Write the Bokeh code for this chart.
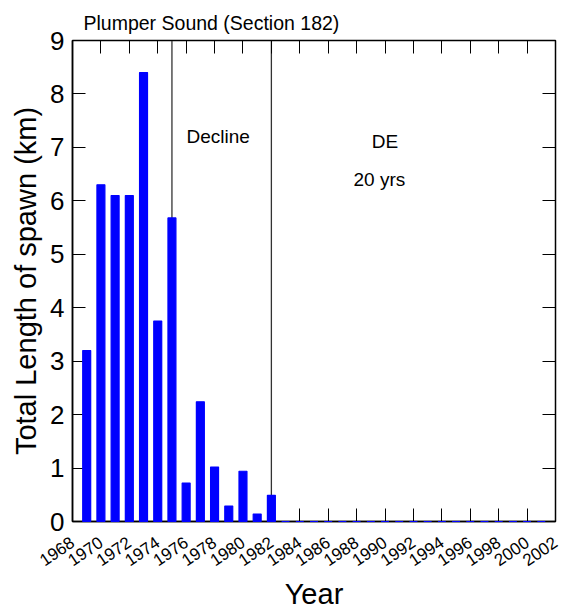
from bokeh.plotting import figure
from bokeh.models import (ColumnDataSource, FixedTicker, LinearAxis, Label,
                          Range1d, Segment)
from bokeh.embed import file_html
from bokeh.resources import INLINE

# Spawn length by year, Plumper Sound (Section 182)
years = [1969, 1970, 1971, 1972, 1973, 1974, 1975, 1976, 1977, 1978, 1979,
         1980, 1981, 1982, 1983, 1984, 1985, 1986, 1987, 1988, 1989, 1990,
         1991, 1992, 1993, 1994, 1995, 1996, 1997, 1998, 1999, 2000, 2001]
lengths_km = [3.2, 6.3, 6.1, 6.1, 8.4, 3.75, 5.68, 0.72, 2.24, 1.02, 0.29,
              0.94, 0.14, 0.49, 0, 0, 0, 0, 0, 0, 0, 0,
              0, 0, 0, 0, 0, 0, 0, 0, 0, 0, 0]
x_ticks = [1968, 1970, 1972, 1974, 1976, 1978, 1980, 1982, 1984, 1986, 1988,
           1990, 1992, 1994, 1996, 1998, 2000, 2002]
y_ticks = [0, 1, 2, 3, 4, 5, 6, 7, 8, 9]
period_breaks = [1975, 1982]

FONT = "Liberation Sans"

p = figure(width=563, height=612, output_backend="svg", toolbar_location=None,
           x_range=Range1d(1968, 2002), y_range=Range1d(0, 9),
           min_border_left=72, min_border_right=8,
           min_border_top=40, min_border_bottom=91)
p.background_fill_color = "white"
p.border_fill_color = "white"
p.outline_line_color = "black"
p.outline_line_width = 1.5
p.xgrid.visible = False
p.ygrid.visible = False

p.title.text = "Plumper Sound (Section 182)"
p.title.text_font = FONT
p.title.text_font_size = "19.5px"
p.title.text_font_style = "normal"
p.title.text_color = "black"
p.title.align = "left"
p.title.offset = 11
p.title.standoff = 14

# period divider lines (drawn behind the bars)
src_lines = ColumnDataSource(dict(x0=period_breaks, y0=[0, 0],
                                  x1=period_breaks, y1=[9, 9]))
p.add_glyph(src_lines, Segment(x0="x0", y0="y0", x1="x1", y1="y1",
                               line_color="#333333", line_width=1.3))

src = ColumnDataSource(dict(year=years, length=lengths_km))
p.vbar(x="year", top="length", bottom=0, width=0.56, source=src,
       fill_color="#0000FF", line_color="#0000FF", line_width=1.2,
       level="annotation")

# axes
xa = p.xaxis[0]
xa.ticker = FixedTicker(ticks=x_ticks)
xa.axis_label = "Year"
xa.axis_label_text_font = FONT
xa.axis_label_text_font_size = "29px"
xa.axis_label_text_font_style = "normal"
xa.axis_label_standoff = 3
xa.major_label_orientation = 0.6
xa.major_label_text_font = FONT
xa.major_label_text_font_size = "17px"
xa.major_label_standoff = 19

ya = p.yaxis[0]
ya.ticker = FixedTicker(ticks=y_ticks)
ya.axis_label = "Total Length of spawn (km)"
ya.axis_label_text_font = FONT
ya.axis_label_text_font_size = "29px"
ya.axis_label_text_font_style = "normal"
ya.axis_label_standoff = 5
ya.major_label_text_font = FONT
ya.major_label_text_font_size = "26px"
ya.major_label_standoff = 8

for ax in (xa, ya):
    ax.major_tick_in = 13
    ax.major_tick_out = 0
    ax.minor_tick_line_color = None
    ax.axis_line_color = "black"
    ax.axis_line_width = 1.5
    ax.major_tick_line_color = "black"
    ax.major_label_text_color = "black"
    ax.axis_label_text_color = "black"

# unlabeled mirror axes carrying the inward ticks on top and right
top_axis = LinearAxis(ticker=FixedTicker(ticks=x_ticks),
                      major_label_text_font_size="1px",
                      major_label_text_color=None, major_label_standoff=0,
                      major_tick_in=13, major_tick_out=0,
                      minor_tick_line_color=None, axis_line_color="black")
right_axis = LinearAxis(ticker=FixedTicker(ticks=y_ticks),
                        major_label_text_font_size="1px",
                        major_label_text_color=None, major_label_standoff=0,
                        major_tick_in=13, major_tick_out=0,
                        minor_tick_line_color=None, axis_line_color="black")
p.add_layout(top_axis, "above")
p.add_layout(right_axis, "right")

# period annotations
p.add_layout(Label(x=1978.25, y=7.2, text="Decline", text_font=FONT,
                   text_font_size="19px", text_baseline="middle",
                   text_align="center", text_color="black"))
p.add_layout(Label(x=1990.0, y=7.11, text="DE", text_font=FONT,
                   text_font_size="19px", text_baseline="middle",
                   text_align="center", text_color="black"))
p.add_layout(Label(x=1989.6, y=6.39, text="20 yrs", text_font=FONT,
                   text_font_size="19px", text_baseline="middle",
                   text_align="center", text_color="black"))

open("out.html", "w").write(file_html(p, INLINE))
